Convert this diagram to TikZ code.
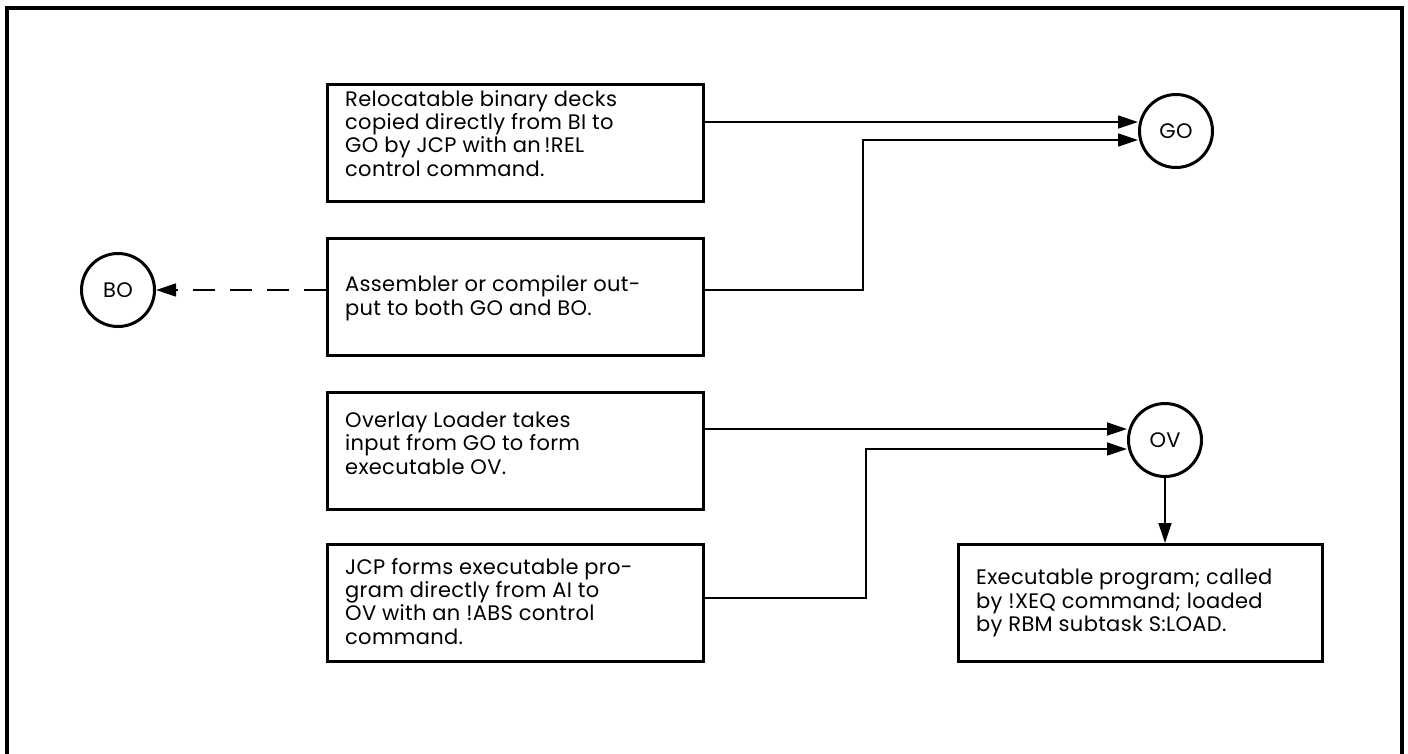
\documentclass[tikz,border=0pt]{standalone}
\usepackage{fontspec}
\setmainfont{Poppins}[LetterSpace=1.5]
\usetikzlibrary{arrows.meta}
\tikzset{
  frame/.style={line width=3.6pt},
  boxshape/.style={draw, line width=3.3pt, rectangle, minimum width=376pt, minimum height=117pt,
    anchor=north west, inner sep=0pt},
  boxtext/.style={anchor=west, align=left, inner sep=0pt,
    font=\fontsize{21}{23.3}\selectfont},
  store/.style={draw, circle, line width=3pt, minimum size=73pt, inner sep=0pt,
    font=\fontsize{21}{23}\selectfont},
  conn/.style={line width=1.4pt, -{Triangle[length=20pt,width=13pt]}},
  dconn/.style={line width=1.4pt, dash pattern=on 22pt off 15pt, -{Triangle[length=20pt,width=13pt]}},
}
\begin{document}
\begin{tikzpicture}[x=1pt,y=-1pt]
\useasboundingbox (0,0) rectangle (1408,753);
\draw[frame] (7,760) -- (7,8) -- (1402,8) -- (1402,760);

\node[boxshape] (b1) at (326,83) {};
\node[boxshape] (b2) at (326,237) {};
\node[boxshape] (b3) at (326,391) {};
\node[boxshape] (b4) at (326,543) {};
\node[boxshape, minimum width=364pt] (b5) at (957,543) {};

\node[boxtext, yshift=10pt] (t1) at ([xshift=19pt]b1.west) {Relocatable binary decks\\copied directly from BI to\\GO by JCP with an\,!REL\\control command.};
\node[boxtext] (t2) at ([xshift=19pt, yshift=-1pt]b2.west) {Assembler or compiler out-\\put to both GO and BO.};
\node[boxtext, yshift=8pt] (t3) at ([xshift=19pt]b3.west) {Overlay Loader takes\\input from GO to form\\executable OV.};
\node[boxtext] (t4) at ([xshift=19pt, yshift=2pt]b4.west) {JCP forms executable pro-\\gram directly from AI to\\OV with an !ABS control\\command.};
\node[boxtext] (t5) at ([xshift=19pt]b5.west) {Executable program; called\\by !XEQ command; loaded\\by RBM subtask S:LOAD.};

\node[store] (go) at (1176,131) {GO};
\node[store] (ov) at (1165,440) {OV};
\node[store] (bo) at (118,290) {BO};

\coordinate (goin1) at (1138,122);
\coordinate (goin2) at (1138,140);
\coordinate (ovin1) at (1127,429);
\coordinate (ovin2) at (1127,449);

\draw[conn] (b1.east |- goin1) -- (goin1);
\draw[conn] (b2.east |- 0,290) -| (863,140) -- (goin2);
\draw[dconn] (b2.west |- 0,290) -- (bo.east |- 0,290);
\draw[conn] (b3.east |- ovin1) -- (ovin1);
\draw[conn] (b4.east |- 0,598) -| (866,449) -- (ovin2);
\draw[conn] (ov.south) -- (b5.north -| ov.south);
\end{tikzpicture}
\end{document}
